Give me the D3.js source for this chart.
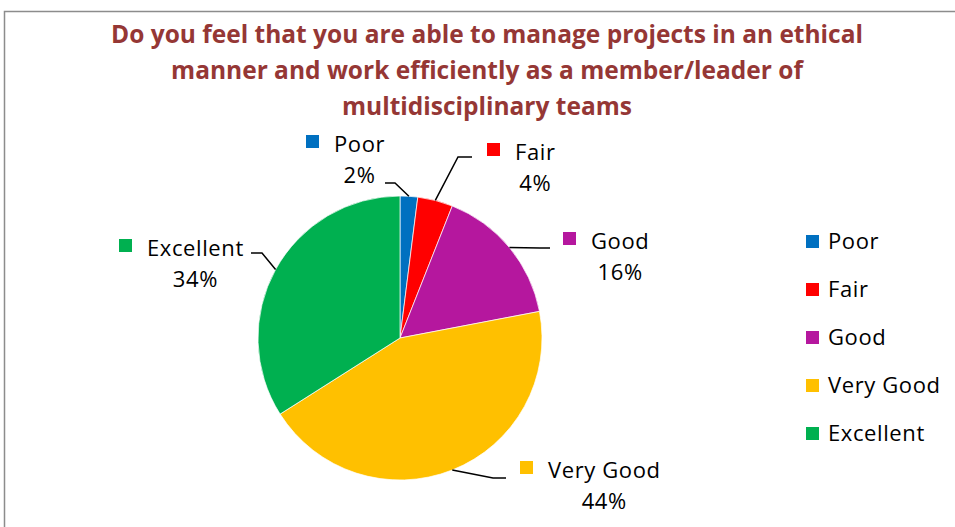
<!DOCTYPE html>
<html>
<head>
<meta charset="utf-8">
<script src="https://cdn.jsdelivr.net/npm/d3@7"></script>
<style>
  body { margin: 0; background: #fff; }
  text { font-family: "Open Sans", Lato, sans-serif; }
</style>
</head>
<body>
<div id="wrapper"></div>
<script>
const categories = ["Poor", "Fair", "Good", "Very Good", "Excellent"]
const percents = [2, 4, 16, 44, 34]
const colors = ["#0070C0", "#FF0000", "#B5179E", "#FFC000", "#00B050"]
const titleLines = [
  "Do you feel that you are able to manage projects in an ethical",
  "manner and work efficiently as a member/leader of",
  "multidisciplinary teams"
]

const dimensions = {
  width: 955,
  height: 527,
  cx: 400,
  cy: 338,
  radius: 142
}

// where each data label sits (left x of the swatch, baseline of first line)
// and the elbow of the leader line
const labelLayout = [
  { x: 306, y: 152, elbow: [395, 183], end: [385, 183] },
  { x: 487, y: 160, elbow: [458, 157], end: [472, 157] },
  { x: 563, y: 249, elbow: [540, 248], end: [550, 248] },
  { x: 520, y: 478, elbow: [493, 478], end: [506, 478] },
  { x: 119, y: 256, elbow: [262, 253], end: [251, 253] }
]

const data = categories.map((c, i) => ({ name: c, value: percents[i], color: colors[i], layout: labelLayout[i] }))

const svg = d3.select("#wrapper")
  .append("svg")
  .attr("width", dimensions.width)
  .attr("height", dimensions.height)

// chart area border
svg.append("rect")
  .attr("x", 4.5)
  .attr("y", 11.5)
  .attr("width", 1000)
  .attr("height", 600)
  .attr("fill", "none")
  .attr("stroke", "#8c8c8c")
  .attr("stroke-width", 1.5)

svg.append("g")
  .selectAll("text")
  .data(titleLines)
  .join("text")
  .attr("x", 487)
  .attr("y", (d, i) => 43 + i * 36)
  .attr("text-anchor", "middle")
  .attr("font-size", 24.5)
  .attr("font-weight", "bold")
  .attr("fill", "#953735")
  .text(d => d)

const pie = d3.pie().sort(null).value(d => d.value)
const arcs = pie(data)

const arc = d3.arc().innerRadius(0).outerRadius(dimensions.radius)
const edgeArc = d3.arc().innerRadius(dimensions.radius).outerRadius(dimensions.radius)

const pieGroup = svg.append("g")
  .attr("transform", `translate(${dimensions.cx}, ${dimensions.cy})`)

pieGroup.selectAll("path")
  .data(arcs)
  .join("path")
  .attr("d", arc)
  .attr("fill", d => d.data.color)
  .attr("stroke", "#fff")
  .attr("stroke-width", 0.7)

// leader lines
const line = d3.line()
arcs.forEach(a => {
  const p = edgeArc.centroid(a)
  const l = a.data.layout
  svg.append("path")
    .attr("d", line([[p[0] + dimensions.cx, p[1] + dimensions.cy], l.elbow, l.end]))
    .attr("fill", "none")
    .attr("stroke", "#000")
    .attr("stroke-width", 1.5)
})

// data labels
const labels = svg.append("g")
arcs.forEach(a => {
  const l = a.data.layout
  const g = labels.append("g")
  g.append("rect")
    .attr("x", l.x)
    .attr("y", l.y - 17)
    .attr("width", 13)
    .attr("height", 13)
    .attr("fill", a.data.color)
  const t = g.append("text")
    .attr("x", l.x + 28)
    .attr("y", l.y)
    .attr("font-size", 22)
    .attr("letter-spacing", 0.6)
    .attr("fill", "#000")
    .text(a.data.name)
  const w = t.node().getComputedTextLength()
  g.append("text")
    .attr("x", l.x + 28 + w / 2)
    .attr("y", l.y + 31)
    .attr("text-anchor", "middle")
    .attr("font-size", 22)
    .attr("letter-spacing", 0.6)
    .attr("fill", "#000")
    .text(a.data.value + "%")
})

// legend
const legend = svg.append("g")
  .attr("transform", "translate(806, 242)")

const rows = legend.selectAll("g")
  .data(data)
  .join("g")
  .attr("transform", (d, i) => `translate(0, ${i * 48})`)

rows.append("rect")
  .attr("x", 0)
  .attr("y", -7)
  .attr("width", 13)
  .attr("height", 13)
  .attr("fill", d => d.color)

rows.append("text")
  .attr("x", 22)
  .attr("y", 7)
  .attr("font-size", 22)
  .attr("letter-spacing", 0.6)
  .attr("fill", "#000")
  .text(d => d.name)
</script>
</body>
</html>
